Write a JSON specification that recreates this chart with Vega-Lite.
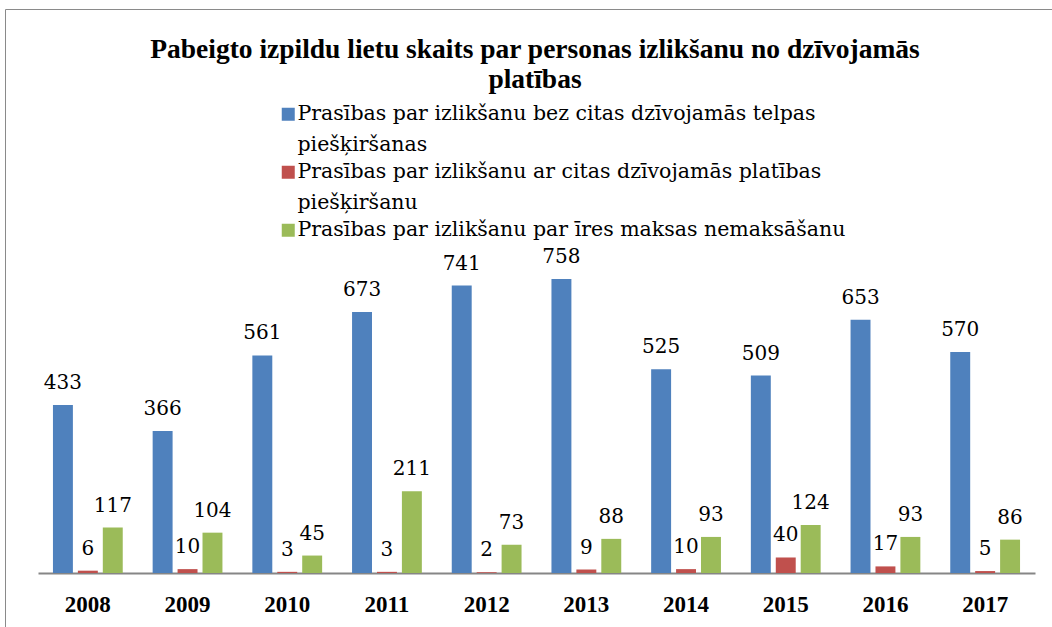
{
  "$schema": "https://vega.github.io/schema/vega-lite/v6.json",
  "width": 1060,
  "height": 620,
  "autosize": {"type": "none"},
  "padding": {"left": 5, "top": 9, "right": 0, "bottom": 0},
  "background": "white",
  "title": {
    "text": ["Pabeigto izpildu lietu skaits par personas izlikšanu no dzīvojamās", "platības"],
    "font": "Liberation Serif",
    "fontSize": 27.5,
    "fontWeight": "bold",
    "color": "black",
    "anchor": "middle",
    "frame": "group",
    "baseline": "top",
    "offset": -84,
    "lineHeight": 30
  },
  "config": {
    "view": {"stroke": "#8a8a8a", "strokeWidth": 1},
    "font": "Liberation Serif"
  },
  "data": {
    "values": [
      {"year": "2008", "series": "Prasības par izlikšanu bez citas dzīvojamās telpas piešķiršanas", "value": 433},
      {"year": "2009", "series": "Prasības par izlikšanu bez citas dzīvojamās telpas piešķiršanas", "value": 366},
      {"year": "2010", "series": "Prasības par izlikšanu bez citas dzīvojamās telpas piešķiršanas", "value": 561},
      {"year": "2011", "series": "Prasības par izlikšanu bez citas dzīvojamās telpas piešķiršanas", "value": 673},
      {"year": "2012", "series": "Prasības par izlikšanu bez citas dzīvojamās telpas piešķiršanas", "value": 741},
      {"year": "2013", "series": "Prasības par izlikšanu bez citas dzīvojamās telpas piešķiršanas", "value": 758},
      {"year": "2014", "series": "Prasības par izlikšanu bez citas dzīvojamās telpas piešķiršanas", "value": 525},
      {"year": "2015", "series": "Prasības par izlikšanu bez citas dzīvojamās telpas piešķiršanas", "value": 509},
      {"year": "2016", "series": "Prasības par izlikšanu bez citas dzīvojamās telpas piešķiršanas", "value": 653},
      {"year": "2017", "series": "Prasības par izlikšanu bez citas dzīvojamās telpas piešķiršanas", "value": 570},
      {"year": "2008", "series": "Prasības par izlikšanu ar citas dzīvojamās platības piešķiršanu", "value": 6},
      {"year": "2009", "series": "Prasības par izlikšanu ar citas dzīvojamās platības piešķiršanu", "value": 10},
      {"year": "2010", "series": "Prasības par izlikšanu ar citas dzīvojamās platības piešķiršanu", "value": 3},
      {"year": "2011", "series": "Prasības par izlikšanu ar citas dzīvojamās platības piešķiršanu", "value": 3},
      {"year": "2012", "series": "Prasības par izlikšanu ar citas dzīvojamās platības piešķiršanu", "value": 2},
      {"year": "2013", "series": "Prasības par izlikšanu ar citas dzīvojamās platības piešķiršanu", "value": 9},
      {"year": "2014", "series": "Prasības par izlikšanu ar citas dzīvojamās platības piešķiršanu", "value": 10},
      {"year": "2015", "series": "Prasības par izlikšanu ar citas dzīvojamās platības piešķiršanu", "value": 40},
      {"year": "2016", "series": "Prasības par izlikšanu ar citas dzīvojamās platības piešķiršanu", "value": 17},
      {"year": "2017", "series": "Prasības par izlikšanu ar citas dzīvojamās platības piešķiršanu", "value": 5},
      {"year": "2008", "series": "Prasības par izlikšanu par īres maksas nemaksāšanu", "value": 117},
      {"year": "2009", "series": "Prasības par izlikšanu par īres maksas nemaksāšanu", "value": 104},
      {"year": "2010", "series": "Prasības par izlikšanu par īres maksas nemaksāšanu", "value": 45},
      {"year": "2011", "series": "Prasības par izlikšanu par īres maksas nemaksāšanu", "value": 211},
      {"year": "2012", "series": "Prasības par izlikšanu par īres maksas nemaksāšanu", "value": 73},
      {"year": "2013", "series": "Prasības par izlikšanu par īres maksas nemaksāšanu", "value": 88},
      {"year": "2014", "series": "Prasības par izlikšanu par īres maksas nemaksāšanu", "value": 93},
      {"year": "2015", "series": "Prasības par izlikšanu par īres maksas nemaksāšanu", "value": 124},
      {"year": "2016", "series": "Prasības par izlikšanu par īres maksas nemaksāšanu", "value": 93},
      {"year": "2017", "series": "Prasības par izlikšanu par īres maksas nemaksāšanu", "value": 86}
    ]
  },
  "encoding": {
    "x": {
      "field": "year",
      "type": "nominal",
      "scale": {"range": [33, 1030], "paddingInner": 0.25, "paddingOuter": 0.125},
      "axis": {
        "title": null,
        "orient": "bottom",
        "offset": -56,
        "ticks": false,
        "domainColor": "#868686",
        "domainWidth": 2,
        "labelAngle": 0,
        "labelFont": "Liberation Serif",
        "labelFontSize": 23,
        "labelFontWeight": "bold",
        "labelColor": "black",
        "labelPadding": 20
      }
    },
    "xOffset": {
      "field": "series",
      "type": "nominal",
      "sort": ["Prasības par izlikšanu bez citas dzīvojamās telpas piešķiršanas", "Prasības par izlikšanu ar citas dzīvojamās platības piešķiršanu", "Prasības par izlikšanu par īres maksas nemaksāšanu"],
      "scale": {"paddingInner": 0.2, "paddingOuter": 0.1}
    },
    "y": {
      "field": "value",
      "type": "quantitative",
      "scale": {"domain": [0, 758], "range": [564, 270], "nice": false},
      "axis": null
    }
  },
  "layer": [
    {
      "mark": {"type": "bar"},
      "encoding": {
        "color": {
          "field": "series",
          "type": "nominal",
          "sort": ["Prasības par izlikšanu bez citas dzīvojamās telpas piešķiršanas", "Prasības par izlikšanu ar citas dzīvojamās platības piešķiršanu", "Prasības par izlikšanu par īres maksas nemaksāšanu"],
          "scale": {
            "domain": ["Prasības par izlikšanu bez citas dzīvojamās telpas piešķiršanas", "Prasības par izlikšanu ar citas dzīvojamās platības piešķiršanu", "Prasības par izlikšanu par īres maksas nemaksāšanu"],
            "range": ["#4F81BD", "#C0504D", "#9BBB59"]
          },
          "legend": {
            "title": null,
            "orient": "none",
            "legendX": 273,
            "legendY": 95,
            "symbolType": "square",
            "symbolSize": 169,
            "symbolStrokeWidth": 0,
            "labelFont": "DejaVu Serif",
            "labelFontSize": 20.5,
            "labelColor": "black",
            "labelLimit": 700,
            "labelOffset": -1,
            "rowPadding": 6,
            "labelExpr": "split(replace(datum.label, ' piešķ', '|piešķ'), '|')",
            "encode": {"labels": {"update": {"lineHeight": {"value": 31}}}}
          }
        }
      }
    },
    {
      "mark": {"type": "text", "baseline": "alphabetic", "dy": -16, "font": "DejaVu Serif", "fontSize": 20, "color": "black"},
      "encoding": {
        "text": {"field": "value", "type": "quantitative"}
      }
    }
  ]
}
